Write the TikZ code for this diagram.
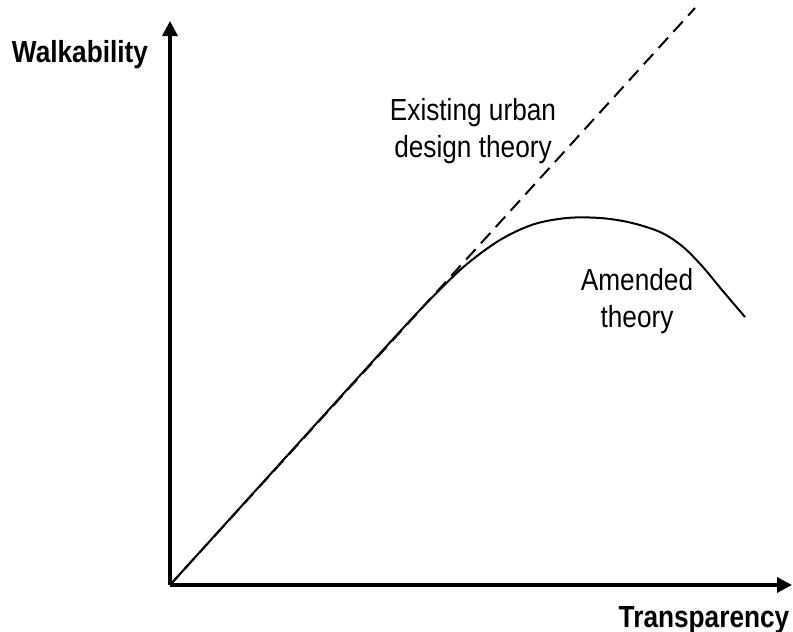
\documentclass[tikz,border=0pt]{standalone}
\usepackage{fontspec}
\usetikzlibrary{arrows.meta}
\newfontfamily\narrowfont[FakeStretch=0.86]{Liberation Sans}
\begin{document}
\begin{tikzpicture}[x=1pt,y=-1pt,
  axis/.style={line width=3.4pt,-{Triangle[length=15pt,width=15pt]}},
  lbl/.style={font=\narrowfont\fontsize{30.5}{37}\selectfont,inner sep=0pt,align=center},
  boldlbl/.style={font=\narrowfont\bfseries\fontsize{30.5}{37}\selectfont,inner sep=0pt},
  curve/.style={line width=2pt,line join=round}]
\useasboundingbox (0,0) rectangle (793,632);
\coordinate (O) at (170,585);
\coordinate (ytip) at (170,21);
\coordinate (xtip) at (792,585);
\coordinate (dend) at (695,8);
\draw[axis] (O) -- (ytip);
\draw[axis] (O) -- (xtip);
\draw[line width=2pt,dash pattern=on 14pt off 8pt] (O) -- (dend);
\draw[curve] plot[smooth,tension=0.55] coordinates {(170,585) (300,441.5) (405,326) (440,289.5) (467,264) (500,240) (533,224.5) (567,218) (600,218) (630,222.5) (660,232) (682,246) (702,266) (722,290) (745,317)};
\node[boldlbl,anchor=base] (walk) at (80,62) {Walkability};
\node[boldlbl,anchor=base] (trans) at (704,627) {Transparency};
\node[lbl,anchor=center] (exist) at (473,131) {Existing urban\\design theory};
\node[lbl,anchor=center] (amend) at (637,301) {Amended\\theory};
\end{tikzpicture}
\end{document}
